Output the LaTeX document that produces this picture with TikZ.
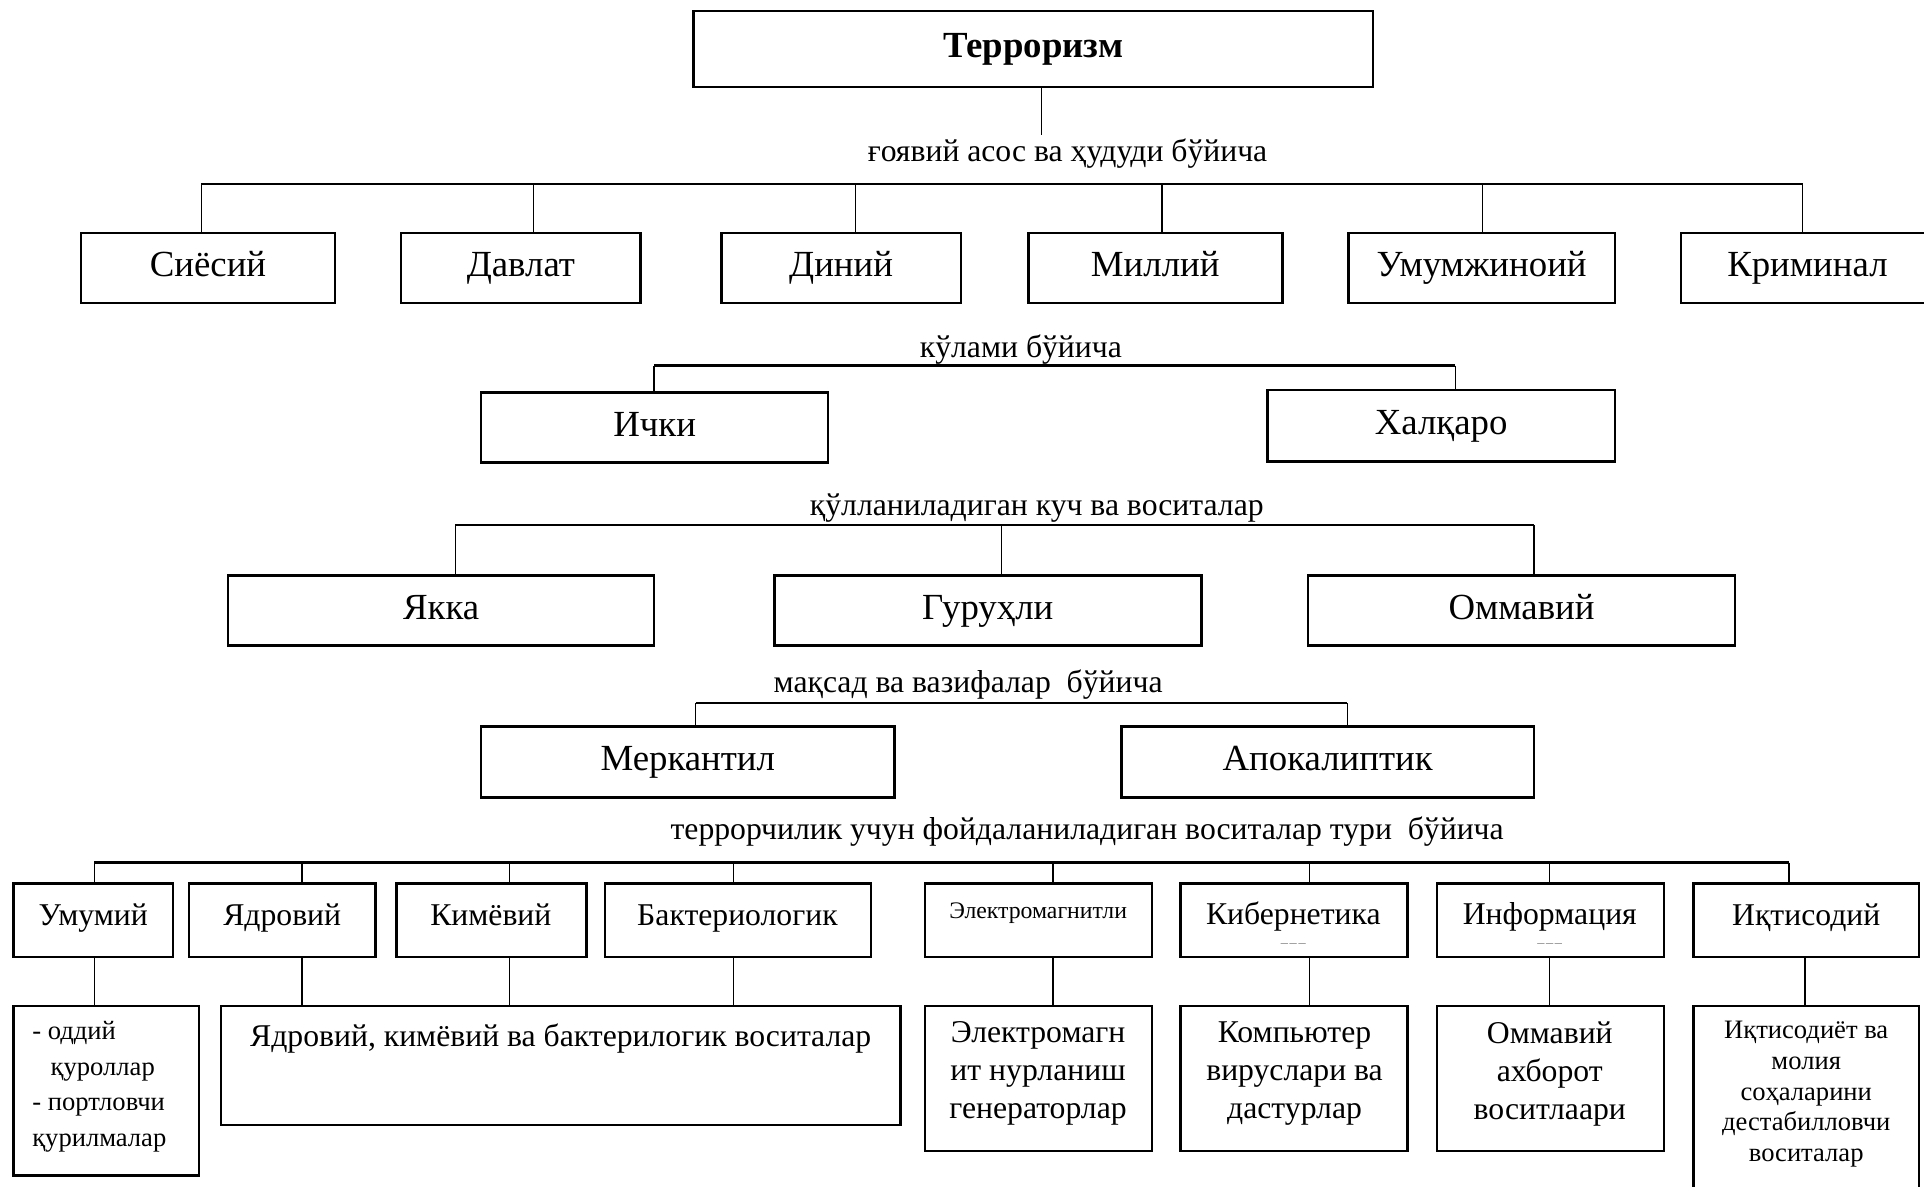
\documentclass[tikz,border=0pt]{standalone}
\usepackage{fontspec}
\setmainfont{Liberation Serif}
\newcommand\bx[7]{\node[bxs,#6,minimum width={(#4-#2)*0.6pt},minimum height={(#5-#3)*0.6pt}] (#1) at ({(#2+#4)/2},{(#3+#5)/2}) {#7};}
\begin{document}
\begin{tikzpicture}[x=0.6pt,y=-0.6pt,
  bxs/.style={draw,line width=1.2pt,inner sep=0pt,align=center},
  bar/.style={line width=1.2pt},
  vl/.style={line width=0.7pt},
  big/.style={font=\fontsize{18}{21}\selectfont,text height=12.6pt,text depth=4pt},
  mid/.style={font=\fontsize{15.5}{18.6}\selectfont,text height=10.9pt,text depth=3.4pt},
  midm/.style={font=\fontsize{15.5}{18.6}\selectfont},
  sm/.style={font=\fontsize{13}{15}\selectfont},
  tiny/.style={font=\fontsize{11.6}{14}\selectfont,text height=8.2pt,text depth=2.6pt},
  lbl/.style={inner sep=0pt,align=center}]
\useasboundingbox (0,0) rectangle (1568,967);
% top
\bx{ter}{565}{9}{1119}{71}{big}{\bfseries Терроризм}
\node[lbl,mid] (l1) at (870,125) {ғоявий асос ва ҳудуди бўйича};
\coordinate (t0) at (849,110);
\draw[vl] (t0 |- ter.south) -- (t0);
% row 1
\bx{s1}{66}{190}{273}{247}{big}{Сиёсий}
\bx{s2}{327}{190}{522}{247}{big}{Давлат}
\bx{s3}{588}{190}{783}{247}{big}{Диний}
\bx{s4}{838}{190}{1045}{247}{big}{Миллий}
\bx{s5}{1099}{190}{1316}{247}{big}{Умумжиноий}
\bx{s6}{1370}{190}{1576}{247}{big}{Криминал}
\coordinate (b1a) at (164,150);
\coordinate (b1b) at (1469,150);
\draw[bar] (b1a) -- (b1b);
\foreach \x/\n in {164/s1,435/s2,697/s3,947/s4,1208/s5,1469/s6}{
  \coordinate (v) at (\x,150);
  \draw[vl] (v) -- (v |- \n.north);}
% row 2
\node[lbl,mid] (l2) at (832,285) {кўлами бўйича};
\bx{i1}{392}{320}{675}{377}{big}{Ички}
\bx{i2}{1033}{318}{1316}{376}{big}{Халқаро}
\coordinate (b2a) at (533,298);
\coordinate (b2b) at (1186,298);
\draw[bar] (b2a) -- (b2b);
\draw[vl] (b2a) -- (b2a |- i1.north);
\draw[vl] (b2b) -- (b2b |- i2.north);
% row 3
\node[lbl,mid] (l3) at (845,414) {қўлланиладиган куч ва воситалар};
\bx{y1}{186}{469}{533}{526}{big}{Якка}
\bx{y2}{631}{469}{979}{526}{big}{Гуруҳли}
\bx{y3}{1066}{469}{1414}{526}{big}{Оммавий}
\coordinate (b3a) at (371,428);
\coordinate (b3b) at (1250,428);
\draw[bar] (b3a) -- (b3b);
\foreach \x/\n in {371/y1,816/y2,1250/y3}{
  \coordinate (v) at (\x,428);
  \draw[vl] (v) -- (v |- \n.north);}
% row 4
\node[lbl,mid] (l4) at (789,558) {мақсад ва вазифалар~ бўйича};
\bx{m1}{392}{592}{729}{650}{big}{Меркантил}
\bx{m2}{914}{592}{1250}{650}{big}{Апокалиптик}
\coordinate (b4a) at (567,573);
\coordinate (b4b) at (1098,573);
\draw[bar] (b4a) -- (b4b);
\draw[vl] (b4a) -- (b4a |- m1.north);
\draw[vl] (b4b) -- (b4b |- m2.north);
% row 5
\node[lbl,mid] (l5) at (886,678) {террорчилик учун фойдаланиладиган воситалар тури~ бўйича};
\bx{u1}{11}{720}{141}{780}{midm}{}
\bx{u2}{154}{720}{306}{780}{midm}{}
\bx{u3}{323}{720}{478}{780}{midm}{}
\bx{u4}{493}{720}{710}{780}{midm}{}
\bx{u5}{754}{720}{939}{780}{midm}{}
\bx{u6}{962}{720}{1147}{780}{midm}{}
\bx{u7}{1171}{720}{1356}{780}{midm}{}
\bx{u8}{1380}{720}{1564}{780}{midm}{}
\node[lbl,mid] (tu1) at (76,748) {Умумий};
\node[lbl,mid] (tu2) at (230,748) {Ядровий};
\node[lbl,mid] (tu3) at (400,748) {Кимёвий};
\node[lbl,mid] (tu4) at (601,748) {Бактериологик};
\node[lbl,tiny] (tu5) at (846,744) {Электромагнитли};
\node[lbl,mid] (tu6) at (1054,747) {Кибернетика};
\node[lbl,mid] (tu7) at (1263,747) {Информация};
\node[lbl,mid] (tu8) at (1472,748) {Иқтисодий};
\node[lbl,font=\fontsize{7}{8}\selectfont,text=gray] (d6) at (1054,769) {\_\kern0.8pt\_\kern0.8pt\_};
\node[lbl,font=\fontsize{7}{8}\selectfont,text=gray] (d7) at (1263,769) {\_\kern0.8pt\_\kern0.8pt\_};
\coordinate (b5a) at (77,703);
\coordinate (b5b) at (1458,703);
\draw[bar] (b5a) -- (b5b);
\foreach \x/\n in {77/u1,246/u2,415/u3,598/u4,858/u5,1067/u6,1263/u7,1458/u8}{
  \coordinate (v) at (\x,703);
  \draw[vl] (v) -- (v |- \n.north);}
% row 6
\bx{c1}{11}{820}{162}{958}{sm}{}
\bx{c2}{180}{820}{734}{917}{midm}{}
\bx{c3}{754}{820}{939}{938}{midm}{}
\bx{c4}{962}{820}{1147}{938}{midm}{}
\bx{c5}{1171}{820}{1356}{938}{midm}{}
\bx{c6}{1380}{820}{1564}{978}{sm}{}
\foreach \x/\a/\b in {77/u1/c1,246/u2/c2,415/u3/c2,598/u4/c2,858/u5/c3,1067/u6/c4,1263/u7/c5,1471/u8/c6}{
  \coordinate (v) at (\x,800);
  \draw[vl] (v |- \a.south) -- (v |- \b.north);}
\node[lbl,align=left,anchor=north west,font=\fontsize{13}{17.4}\selectfont] (tc1) at (26,832) {- оддий\\\hspace*{9pt}қуроллар\\- портловчи\\қурилмалар};
\node[lbl,mid] (tc2) at (457,847) {Ядровий, кимёвий ва бактерилогик воситалар};
\node[lbl,midm,anchor=north] (tc3) at (846,832) {Электромагн\\ит нурланиш\\генераторлар};
\node[lbl,midm,anchor=north] (tc4) at (1055,832) {Компьютер\\вируслари ва\\дастурлар};
\node[lbl,midm,anchor=north] (tc5) at (1263,832) {Оммавий\\ахборот\\воситлаари};
\node[lbl,sm,anchor=north] (tc6) at (1472,832) {Иқтисодиёт ва\\молия\\соҳаларини\\дестабилловчи\\воситалар};
\end{tikzpicture}
\end{document}
